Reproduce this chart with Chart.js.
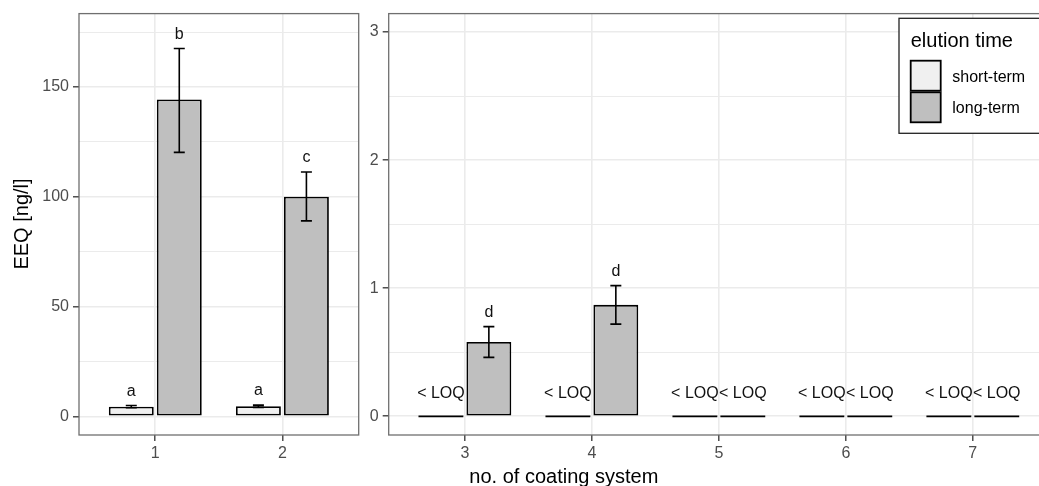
<!DOCTYPE html>
<html>
<head>
<meta charset="utf-8">
<title>EEQ by coating system</title>
<script src="https://cdn.jsdelivr.net/npm/chart.js@4.4.1/dist/chart.umd.min.js"></script>
<style>
  html, body { margin: 0; padding: 0; background: #fff; overflow: hidden; }
  body { width: 1039px; height: 486px; position: relative; }
  canvas { position: absolute; top: 0; }
  #leftPanel  { left: 0; }
  #rightPanel { left: 360px; }
</style>
</head>
<body>
<canvas id="leftPanel" width="365" height="486"></canvas>
<canvas id="rightPanel" width="700" height="486"></canvas>
<script>
/* ─── Data ───────────────────────────────────────────────────── */
const SYSTEMS_HIGH = [1, 2];            // left panel (large EEQ)
const SYSTEMS_LOW  = [3, 4, 5, 6, 7];   // right panel

// index = coating system - 1
const SHORT_MEAN = [4.4, 4.6, 0, 0, 0, 0, 0];
const SHORT_LOW  = [3.9, 4.1, null, null, null, null, null];
const SHORT_HIGH = [4.9, 5.1, null, null, null, null, null];
const SHORT_LOQ  = [false, false, true, true, true, true, true];
const SHORT_SIG  = ['a', 'a', '', '', '', '', ''];

const LONG_MEAN = [144.3, 100.0, 0.58, 0.87, 0, 0, 0];
const LONG_LOW  = [120.2, 89.0, 0.46, 0.72, null, null, null];
const LONG_HIGH = [167.5, 111.3, 0.70, 1.02, null, null, null];
const LONG_LOQ  = [false, false, false, false, true, true, true];
const LONG_SIG  = ['b', 'c', 'd', 'd', '', '', ''];

const HIGH_TICKS = [0, 50, 100, 150];
const HIGH_MINOR = [25, 75, 125, 175];
const LOW_TICKS  = [0, 1, 2, 3];
const LOW_MINOR  = [0.5, 1.5, 2.5];

const SERIES = ['short-term', 'long-term'];
const LOQ_TEXT = '< LOQ';

/* ─── Style ──────────────────────────────────────────────────── */
const FONT = '"Liberation Sans", Arial, sans-serif';
const FILLS = ['#f0f0f0', '#bfbfbf'];
const GRID = '#ebebeb';

/* ─── Error bars, letters, < LOQ marks, panel frame ──────────── */
function panelMarks(systems) {
  const groups = [
    { lo: SHORT_LOW, hi: SHORT_HIGH, loq: SHORT_LOQ, sig: SHORT_SIG },
    { lo: LONG_LOW,  hi: LONG_HIGH,  loq: LONG_LOQ,  sig: LONG_SIG },
  ];
  return {
    id: 'panelMarks',
    afterDatasetsDraw(chart) {
      const { ctx, chartArea: a } = chart;
      const y = chart.scales.y;
      const zero = y.getPixelForValue(0);
      ctx.save();
      ctx.strokeStyle = '#000';
      ctx.fillStyle = '#111';
      ctx.font = `16px ${FONT}`;
      ctx.textAlign = 'center';
      ctx.textBaseline = 'alphabetic';

      groups.forEach((g, d) => {
        const meta = chart.getDatasetMeta(d);
        systems.forEach((sys, i) => {
          const k = sys - 1;
          const bar = meta.data[i];
          const half = bar.width / 2;
          if (g.loq[k]) {
            ctx.lineWidth = 1.8;
            ctx.beginPath();
            ctx.moveTo(bar.x - half, zero);
            ctx.lineTo(bar.x + half, zero);
            ctx.stroke();
            ctx.fillText(LOQ_TEXT, bar.x, zero - 18.5);
            return;
          }
          const top = y.getPixelForValue(g.hi[k]);
          const bot = y.getPixelForValue(g.lo[k]);
          const cap = 5.5;
          ctx.lineWidth = 1.6;
          ctx.beginPath();
          ctx.moveTo(bar.x, top);       ctx.lineTo(bar.x, bot);
          ctx.moveTo(bar.x - cap, top); ctx.lineTo(bar.x + cap, top);
          ctx.moveTo(bar.x - cap, bot); ctx.lineTo(bar.x + cap, bot);
          ctx.stroke();
          if (g.sig[k]) ctx.fillText(g.sig[k], bar.x, top - 10);
        });
      });

      ctx.strokeStyle = '#6f6f6f';
      ctx.lineWidth = 1.3;
      ctx.strokeRect(a.left, a.top, a.right - a.left, a.bottom - a.top);
      ctx.restore();
    },
  };
}

/* ─── Axis titles and legend ─────────────────────────────────── */
const yTitle = {
  id: 'yTitle',
  afterDraw(chart) {
    const { ctx } = chart;
    ctx.save();
    ctx.translate(27.6, 224);
    ctx.rotate(-Math.PI / 2);
    ctx.font = `20px ${FONT}`;
    ctx.fillStyle = '#000';
    ctx.textAlign = 'center';
    ctx.textBaseline = 'alphabetic';
    ctx.fillText('EEQ [ng/l]', 0, 0);
    ctx.restore();
  },
};

const xTitleAndLegend = {
  id: 'xTitleAndLegend',
  afterDraw(chart) {
    const { ctx } = chart;
    ctx.save();
    ctx.fillStyle = '#000';
    ctx.font = `20px ${FONT}`;
    ctx.textAlign = 'center';
    ctx.textBaseline = 'alphabetic';
    ctx.fillText('no. of coating system', 203.8, 483);

    // legend box
    ctx.fillStyle = '#fff';
    ctx.fillRect(539, 18.3, 200, 115);
    ctx.strokeStyle = '#222';
    ctx.lineWidth = 1.3;
    ctx.strokeRect(539, 18.3, 200, 115);

    ctx.fillStyle = '#000';
    ctx.textAlign = 'left';
    ctx.fillText('elution time', 550.7, 46.7);

    ctx.font = `16px ${FONT}`;
    const keyTop = [60.7, 92.3];
    const textBase = [82.3, 113.3];
    SERIES.forEach((name, i) => {
      ctx.fillStyle = FILLS[i];
      ctx.fillRect(550.7, keyTop[i], 30, 30);
      ctx.strokeStyle = '#000';
      ctx.lineWidth = 1.8;
      ctx.strokeRect(550.7, keyTop[i], 30, 30);
      ctx.fillStyle = '#000';
      ctx.fillText(name, 592.3, textBase[i]);
    });
    ctx.restore();
  },
};

/* ─── Panel builder ──────────────────────────────────────────── */
function makePanel(id, systems, yMin, yMax, major, minor, frame, extra) {
  const yTicks = [...major, ...minor].sort((p, q) => p - q);
  const isMajor = c => c.tick && major.includes(c.tick.value);
  const means = [SHORT_MEAN, LONG_MEAN];

  return new Chart(document.getElementById(id), {
    type: 'bar',
    data: {
      datasets: SERIES.map((name, d) => ({
        label: name,
        data: systems.map(s => ({ x: s, y: means[d][s - 1] })),
        backgroundColor: FILLS[d],
        borderColor: '#000',
        borderWidth: 1.8,
        borderSkipped: false,
        categoryPercentage: 0.755,
        barPercentage: 0.936,
      })),
    },
    options: {
      responsive: false,
      animation: false,
      devicePixelRatio: 1,
      layout: { padding: { left: 0, top: 13.3, right: frame.right, bottom: 0 } },
      plugins: { legend: { display: false }, tooltip: { enabled: false } },
      scales: {
        x: {
          type: 'linear',
          offset: false,
          min: systems[0] - 0.6,
          max: systems[systems.length - 1] + 0.6,
          afterBuildTicks: s => { s.ticks = systems.map(v => ({ value: v })); },
          afterFit: s => { s.height = 51; },
          border: { display: false },
          grid: { offset: false, color: GRID, lineWidth: 1.6, tickColor: '#333', tickLength: 6, tickWidth: 1.3 },
          ticks: {
            color: '#4d4d4d', font: { family: FONT, size: 16 }, padding: 2.5,
            maxRotation: 0, autoSkip: false, callback: v => String(v),
          },
        },
        y: {
          min: yMin,
          max: yMax,
          afterBuildTicks: s => { s.ticks = yTicks.map(v => ({ value: v })); },
          afterFit: s => { s.width = frame.left; },
          border: { display: false },
          grid: {
            color: GRID,
            lineWidth: c => (isMajor(c) ? 1.6 : 1),
            tickColor: c => (isMajor(c) ? '#333' : 'rgba(0,0,0,0)'),
            tickLength: 6,
            tickWidth: 1.3,
          },
          ticks: {
            color: '#4d4d4d', font: { family: FONT, size: 16 }, padding: 4,
            autoSkip: false, callback: v => (major.includes(v) ? String(v) : ''),
          },
        },
      },
    },
    plugins: [panelMarks(systems), ...extra],
  });
}

/* ─── Init ───────────────────────────────────────────────────── */
makePanel('leftPanel', SYSTEMS_HIGH, -8.5, 183.4, HIGH_TICKS, HIGH_MINOR,
  { left: 79, right: 6.3 }, [yTitle]);
makePanel('rightPanel', SYSTEMS_LOW, -0.146, 3.144, LOW_TICKS, LOW_MINOR,
  { left: 28.7, right: 11 }, [xTitleAndLegend]);
</script>
</body>
</html>
